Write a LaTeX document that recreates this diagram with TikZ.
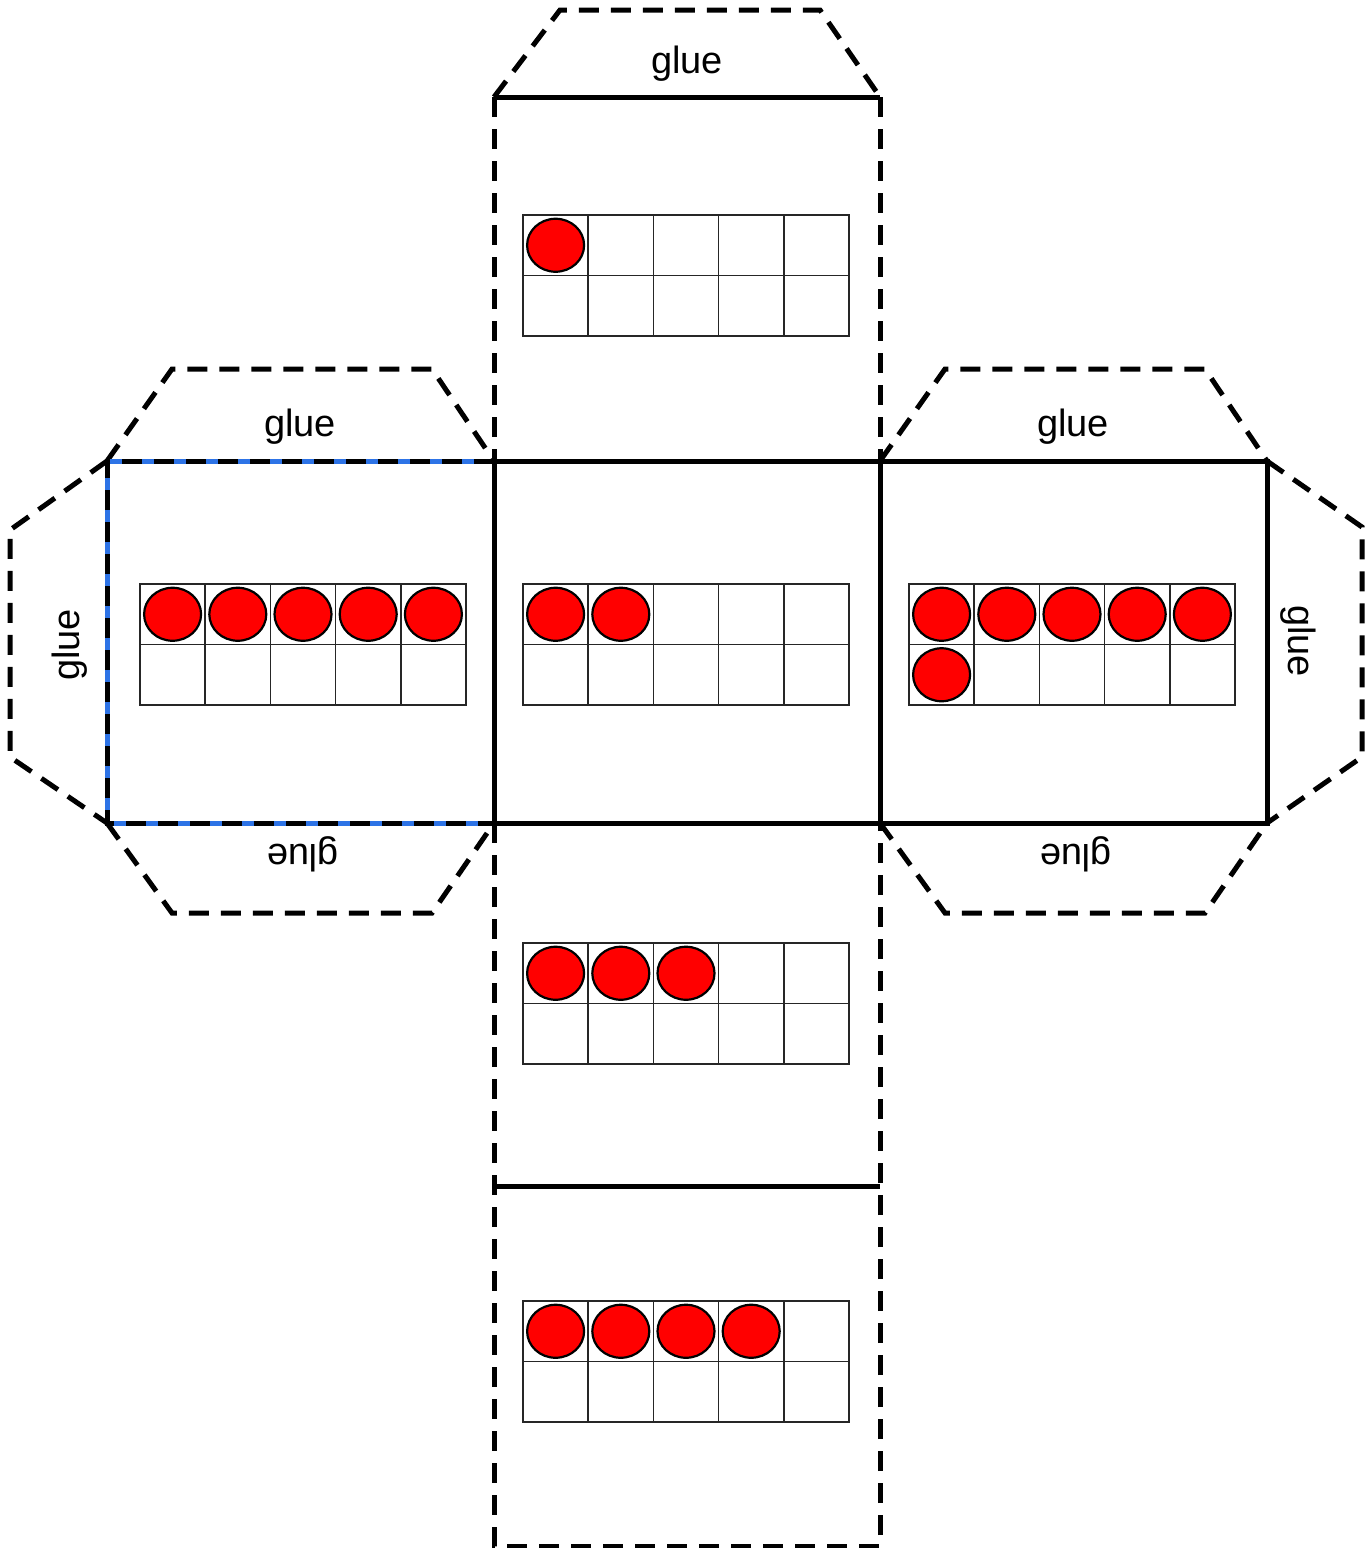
\documentclass[tikz,border=0pt]{standalone}
\usepackage{fontspec}
\setmainfont{Liberation Sans}
\definecolor{tabblue}{RGB}{45,115,230}
\newcommand\TenFrame[3]{%
  \foreach \i in {0,...,4}{\foreach \j in {0,1}{%
    \draw[cellline] ({#1+\i*65.2},{#2+\j*60.5}) rectangle ++(65.2,60.5);}}
  \foreach \k in {1,...,#3}{%
    \pgfmathtruncatemacro\cc{mod(\k-1,5)}%
    \pgfmathtruncatemacro\rr{(\k-1)/5}%
    \draw[counter] ({#1+(\cc+0.5)*65.2},{#2+(\rr+0.5)*60.5}) ellipse [x radius=28.5, y radius=26.5];}
}
\begin{document}
\begin{tikzpicture}[x=1pt,y=-1pt,
  edge/.style={line width=5pt, line join=miter},
  dashedge/.style={line width=5pt, dash pattern=on 20pt off 12pt, line join=miter},
  cellline/.style={line width=1.6pt, draw=black!85},
  counter/.style={fill=red, draw=black, line width=2.2pt},
  gluetext/.style={font=\fontsize{38}{40}\selectfont, inner sep=0pt}]
\useasboundingbox (0,0) rectangle (1370,1548);
% tabs
\draw[dashedge] (494,97) -- (560,10) -- (820,10) -- (880,97);
\draw[dashedge] (107,461) -- (172,369) -- (432,369) -- (494,461);
\draw[dashedge] (107,823) -- (172,913) -- (432,913) -- (494,823);
\draw[dashedge] (880,461) -- (945,369) -- (1205,369) -- (1267,461);
\draw[dashedge] (880,823) -- (945,913) -- (1205,913) -- (1267,823);
\draw[dashedge] (107,461) -- (10,530) -- (10,757) -- (107,823);
\draw[dashedge] (1267,461) -- (1362,527) -- (1362,757) -- (1267,823);
% left face (blue under dashes)
\draw[edge, draw=tabblue] (494,461) -- (107,461) -- (107,823) -- (494,823);
\draw[dashedge] (494,461) -- (107,461) -- (107,823) -- (494,823);
% dashed sides of column
\draw[dashedge] (494,97) -- (494,461);
\draw[dashedge] (880,97) -- (880,461);
\draw[dashedge] (494,823) -- (494,1546) -- (880,1546) -- (880,823);
% solid edges
\draw[edge] (494,97) -- (880,97);
\draw[edge] (494,461) rectangle (880,823);
\draw[edge] (880,461) rectangle (1267,823);
\draw[edge] (494,1186) -- (880,1186);
% ten frames
\TenFrame{523}{215}{1}
\TenFrame{523}{584}{2}
\TenFrame{140}{584}{5}
\TenFrame{909}{584}{6}
\TenFrame{523}{943}{3}
\TenFrame{523}{1301}{4}
% labels
\node[gluetext] (gTop) at (687,64) {glue};
\node[gluetext] (gLT) at (300,427) {glue};
\node[gluetext] (gRT) at (1073,427) {glue};
\node[gluetext, rotate=90] (gL) at (70,645) {glue};
\node[gluetext, rotate=-90] (gR) at (1298,641) {glue};
\node[gluetext, rotate=180] (gLB) at (303,854) {glue};
\node[gluetext, rotate=180] (gRB) at (1076,854) {glue};
\end{tikzpicture}
\end{document}
